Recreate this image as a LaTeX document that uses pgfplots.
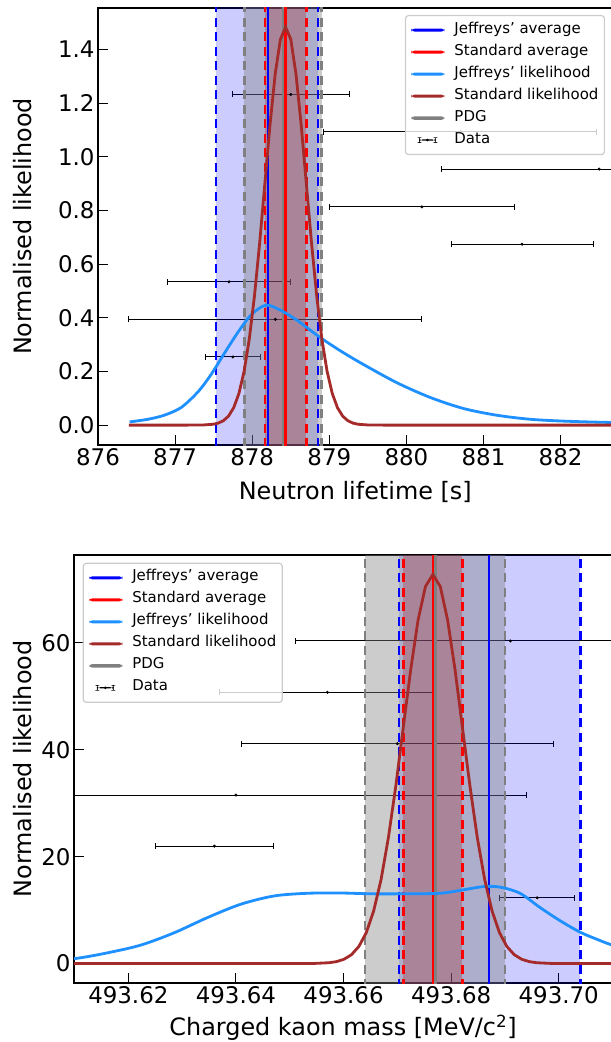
\documentclass[border=0pt]{standalone}
\usepackage{fontspec}
\setmainfont{DejaVu Sans}
\usepackage{pgfplots}
\pgfplotsset{compat=1.18}
\usepackage{pgfplotstable}
\definecolor{mplbrown}{HTML}{A52A2A}
\definecolor{mpldodger}{HTML}{1E90FF}
\definecolor{mplgray}{HTML}{808080}
\definecolor{legframe}{HTML}{CCCCCC}

% neutron lifetime measurements: value, plotted height, error
\pgfplotstableread{
x y e
878.5 1.232 0.76
880.7 1.093 1.77
882.5 0.954 2.05
880.2 0.813 1.20
881.5 0.674 0.92
877.7 0.534 0.80
878.3 0.394 1.90
877.75 0.254 0.36
}\neutrondata

% Jeffreys' likelihood (neutron)
\pgfplotstableread{
x y
876.41 0.012
876.65 0.022
876.86 0.037
877.08 0.066
877.30 0.125
877.47 0.190
877.64 0.268
877.82 0.348
877.99 0.412
878.18 0.447
878.38 0.426
878.59 0.389
878.85 0.333
879.11 0.283
879.40 0.233
879.87 0.159
880.31 0.103
880.74 0.062
881.17 0.037
881.60 0.022
882.04 0.015
882.65 0.010
883.50 0.007
884.80 0.005
}\neutronjeff

% Standard likelihood (neutron)
\pgfplotstableread{
x y
876.40 0
877.088 0
877.357 0.0005
877.4915 0.0032
877.5588 0.0075
877.626 0.0165
877.6933 0.0338
877.7605 0.0652
877.8278 0.1180
877.895 0.2007
877.9623 0.3207
878.0295 0.4815
878.0968 0.6790
878.164 0.8995
878.2313 1.1194
878.2985 1.3087
878.3658 1.4374
878.433 1.4830
878.5003 1.4374
878.5675 1.3087
878.6348 1.1194
878.702 0.8995
878.7693 0.6790
878.8365 0.4815
878.9038 0.3207
878.971 0.2007
879.0383 0.1180
879.1055 0.0652
879.1728 0.0338
879.24 0.0165
879.3073 0.0075
879.3745 0.0032
879.509 0.0005
879.778 0
884.80 0
}\neutronstd

% kaon mass measurements: dm = mass - 493.6 MeV/c^2
\pgfplotstableread{
dm y e
0.091 60.36 0.040
0.057 50.75 0.020
0.070 41.14 0.029
0.040 31.52 0.054
0.036 21.97 0.011
0.096 12.30 0.007
}\kaondata

% Jeffreys' likelihood (kaon), dm = mass - 493.6
\pgfplotstableread{
dm y
0.0000 0.25
0.0050 0.50
0.0105 0.99
0.0161 2.00
0.0223 3.45
0.0285 5.75
0.0347 8.60
0.0409 11.1
0.0471 12.65
0.0533 13.15
0.0595 13.2
0.0650 13.05
0.0710 13.05
0.0779 13.15
0.0823 13.8
0.0860 14.4
0.0891 14.3
0.0928 13.15
0.0965 10.5
0.1002 8.05
0.1040 5.86
0.1077 4.3
0.1097 3.55
0.1150 2.0
}\kaonjeff

% Standard likelihood (kaon), dm = mass - 493.6
\pgfplotstableread{
dm y
0.0000 0
0.0491 0.0003
0.0546 0.0244
0.05735 0.159
0.05873 0.370
0.0601 0.809
0.06148 1.659
0.06285 3.199
0.06423 5.792
0.0656 9.853
0.06698 15.74
0.06835 23.63
0.06973 33.33
0.0711 44.16
0.07248 54.95
0.07385 64.25
0.07523 70.56
0.0766 72.80
0.07798 70.56
0.07935 64.25
0.08073 54.95
0.0821 44.16
0.08348 33.33
0.08485 23.63
0.08623 15.74
0.0876 9.853
0.08898 5.792
0.09035 3.199
0.09173 1.659
0.0931 0.809
0.09448 0.370
0.09585 0.159
0.0986 0.0244
0.1041 0.0003
0.1200 0
}\kaonstd

\pgfplotsset{
 legblue/.style={legend image code/.code={\path[draw=none, fill=blue, fill opacity=1] (0bp,-1.5bp) rectangle (33bp,1.5bp);}},
 legred/.style={legend image code/.code={\path[draw=none, fill=red, fill opacity=1] (0bp,-1.5bp) rectangle (33bp,1.5bp);}},
 legdodger/.style={legend image code/.code={\path[draw=none, fill=mpldodger, fill opacity=1] (0bp,-1.5bp) rectangle (33bp,1.5bp);}},
 legbrown/.style={legend image code/.code={\path[draw=none, fill=mplbrown, fill opacity=1] (0bp,-1.5bp) rectangle (33bp,1.5bp);}},
 leggray/.style={legend image code/.code={\path[draw=none, fill=mplgray, fill opacity=1] (0bp,-1.8bp) rectangle (33bp,1.8bp);}},
 legerr/.style={legend image code/.code={%
   \path[draw=none, fill=black, fill opacity=1] (8bp,-0.6bp) rectangle (24bp,0.6bp);
   \path[draw=none, fill=black, fill opacity=1] (7.4bp,-2.8bp) rectangle (8.6bp,2.8bp);
   \path[draw=none, fill=black, fill opacity=1] (23.4bp,-2.8bp) rectangle (24.6bp,2.8bp);
   \path[draw=none, fill=black, fill opacity=1] (16bp,0bp) circle (1.4bp);}},
 mystyle/.style={
   scale only axis,
   tick pos=left, tick align=inside,
   major tick length=10bp,
   tick style={black, line width=1bp},
   axis line style={line width=2.5bp},
   tick label style={font=\fontsize{23}{27}\selectfont},
   label style={font=\fontsize{24}{29}\selectfont},
   /pgf/number format/assume math mode=true,
   legend cell align=left,
   legend style={font=\fontsize{15}{18}\selectfont, draw=legframe, line width=1.2bp,
     rounded corners=3bp, fill=white, fill opacity=0.8, draw opacity=1, text opacity=1,
     inner xsep=6bp, inner ysep=3.5bp, row sep=0bp,
     nodes={inner sep=0bp, text height=14bp, text depth=8bp},
     /tikz/every odd column/.append style={column sep=10bp}},
 },
 vline/.style={line width=2bp, forget plot},
 dline/.style={line width=2.6bp, dash pattern=on 9bp off 5.5bp, forget plot},
 band/.style={draw=none, forget plot},
 errplot/.style={black, forget plot, only marks, mark=*, mark size=1.3bp, mark options={black},
   error bars/.cd, x dir=both, x explicit, error bar style={line width=1bp, black},
   error mark=|, error mark options={black, line width=1bp, mark size=3bp}},
}

\begin{document}
\begin{tikzpicture}
% ---------------- Neutron lifetime ----------------
\begin{axis}[mystyle,
  at={(98bp,-445bp)}, anchor=south west,
  width=514.5bp, height=437bp,
  xmin=876, xmax=882.673, ymin=-0.074, ymax=1.554,
  xtick={876,877,878,879,880,881,882},
  ytick={0,0.2,0.4,0.6,0.8,1.0,1.2,1.4},
  yticklabel style={/pgf/number format/.cd, fixed, fixed zerofill, precision=1},
  xlabel={Neutron lifetime [s]},
  ylabel={Normalised likelihood},
  xlabel style={at={(axis description cs:0.5,-0.1236)}, anchor=base},
  ylabel style={at={(axis description cs:-0.1302,0.5)}, anchor=base},
  legend style={at={(0.9854,0.984)}, anchor=north east},
]
\addplot[errplot] table[x=x, y=y, x error=e] {\neutrondata};
\addplot[band, fill=blue, fill opacity=0.2] coordinates {(877.53,-1) (877.53,2) (878.853,2) (878.853,-1)} -- cycle;
\addplot[band, fill=mplgray, fill opacity=0.4] coordinates {(877.9,-1) (877.9,2) (878.9,2) (878.9,-1)} -- cycle;
\addplot[band, fill=mplbrown, fill opacity=0.3] coordinates {(878.165,-1) (878.165,2) (878.702,2) (878.702,-1)} -- cycle;
\addplot[dline, mplgray] coordinates {(877.9,-1) (877.9,2)};
\addplot[dline, mplgray] coordinates {(878.9,-1) (878.9,2)};
\addplot[vline, mplgray, line width=3bp] coordinates {(878.4,-1) (878.4,2)};
\addplot[dline, blue] coordinates {(877.53,-1) (877.53,2)};
\addplot[dline, blue] coordinates {(878.853,-1) (878.853,2)};
\addplot[vline, blue] coordinates {(878.204,-1) (878.204,2)};
\addplot[dline, red] coordinates {(878.165,-1) (878.165,2)};
\addplot[dline, red] coordinates {(878.702,-1) (878.702,2)};
\addplot[vline, red, line width=2.8bp] coordinates {(878.433,-1) (878.433,2)};
\addplot[forget plot, mpldodger, line width=2.8bp, smooth] table[x=x, y=y] {\neutronjeff};
\addplot[forget plot, mplbrown, line width=2.8bp] table[x=x, y=y] {\neutronstd};
\addlegendimage{legblue}
\addlegendentry{Jeffreys' average}
\addlegendimage{legred}
\addlegendentry{Standard average}
\addlegendimage{legdodger}
\addlegendentry{Jeffreys' likelihood}
\addlegendimage{legbrown}
\addlegendentry{Standard likelihood}
\addlegendimage{leggray}
\addlegendentry{PDG}
\addlegendimage{legerr}
\addlegendentry{Data}
\end{axis}

% ---------------- Charged kaon mass ----------------
\begin{axis}[mystyle,
  at={(74bp,-983bp)}, anchor=south west,
  width=538bp, height=428bp,
  xmin=0.0099, xmax=0.1099, ymin=-3.64, ymax=76.44,
  xtick={0.02,0.04,0.06,0.08,0.10},
  xticklabels={493.62,493.64,493.66,493.68,493.70},
  ytick={0,20,40,60},
  xlabel={Charged kaon mass [MeV/c\textsuperscript{2}]},
  ylabel={Normalised likelihood},
  xlabel style={at={(axis description cs:0.5,-0.1238)}, anchor=base},
  ylabel style={at={(axis description cs:-0.0799,0.5)}, anchor=base},
  legend style={at={(0.0162,0.982)}, anchor=north west},
]
\addplot[errplot] table[x=dm, y=y, x error=e] {\kaondata};
\addplot[band, fill=blue, fill opacity=0.2] coordinates {(0.0703,-10) (0.0703,90) (0.1040,90) (0.1040,-10)} -- cycle;
\addplot[band, fill=mplgray, fill opacity=0.4] coordinates {(0.0640,-10) (0.0640,90) (0.0900,90) (0.0900,-10)} -- cycle;
\addplot[band, fill=mplbrown, fill opacity=0.3] coordinates {(0.0711,-10) (0.0711,90) (0.0821,90) (0.0821,-10)} -- cycle;
\addplot[dline, mplgray] coordinates {(0.0640,-10) (0.0640,90)};
\addplot[dline, mplgray] coordinates {(0.0900,-10) (0.0900,90)};
\addplot[vline, mplgray, line width=3bp] coordinates {(0.0771,-10) (0.0771,90)};
\addplot[dline, blue] coordinates {(0.0703,-10) (0.0703,90)};
\addplot[dline, blue] coordinates {(0.1040,-10) (0.1040,90)};
\addplot[vline, blue] coordinates {(0.0871,-10) (0.0871,90)};
\addplot[dline, red] coordinates {(0.0711,-10) (0.0711,90)};
\addplot[dline, red] coordinates {(0.0821,-10) (0.0821,90)};
\addplot[vline, red, line width=1.5bp] coordinates {(0.0766,-10) (0.0766,90)};
\addplot[forget plot, mpldodger, line width=2.8bp, smooth] table[x=dm, y=y] {\kaonjeff};
\addplot[forget plot, mplbrown, line width=2.8bp] table[x=dm, y=y] {\kaonstd};
\addlegendimage{legblue}
\addlegendentry{Jeffreys' average}
\addlegendimage{legred}
\addlegendentry{Standard average}
\addlegendimage{legdodger}
\addlegendentry{Jeffreys' likelihood}
\addlegendimage{legbrown}
\addlegendentry{Standard likelihood}
\addlegendimage{leggray}
\addlegendentry{PDG}
\addlegendimage{legerr}
\addlegendentry{Data}
\end{axis}
\pgfresetboundingbox
\path[use as bounding box] (0bp,0bp) rectangle (611bp,-1042bp);
\end{tikzpicture}
\end{document}
